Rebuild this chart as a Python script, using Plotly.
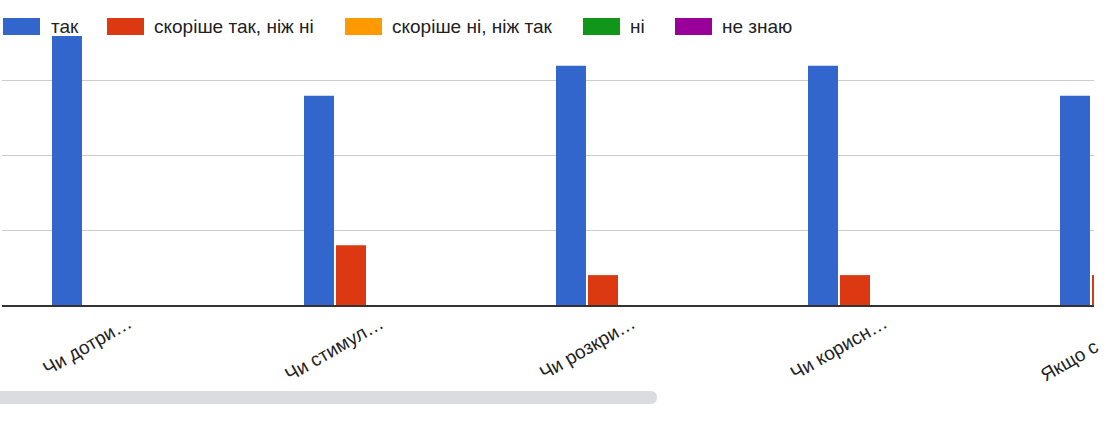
import plotly.graph_objects as go

categories = ["Чи дотри…", "Чи стимул…", "Чи розкри…", "Чи корисн…", "Якщо с…"]
tick_labels = ["Чи дотри…", "Чи стимул…", "Чи розкри…", "Чи корисн…", "Якщо с"]
series_names = ["так", "скоріше так, ніж ні", "скоріше ні, ніж так", "ні", "не знаю"]
tak = [9, 7, 8, 8, 7]
skorishe_tak = [0, 2, 1, 1, 1]
skorishe_ni = [0, 0, 0, 0, 0]
ni = [0, 0, 0, 0, 0]
ne_znayu = [0, 0, 0, 0, 0]
colors = ["#3366cc", "#dc3912", "#ff9900", "#109618", "#990099"]
y_ticks = [0, 2.5, 5, 7.5, 10]

W, H = 1117, 447
L, R, T, B = 2, 23, 6, 142
PW = W - L - R
PH = H - T - B

def px_x(px):
    return (px - L) / PW

def px_y(py):
    return (H - B - py) / PH

FONT = "Arial, 'Liberation Sans', sans-serif"
FS = 19

fig = go.Figure()
for name, vals, col in zip(series_names, [tak, skorishe_tak, skorishe_ni, ni, ne_znayu], colors):
    fig.add_trace(go.Bar(x=categories, y=vals, name=name, marker_color=col,
                         marker_line_width=0, showlegend=False))

# x range: show the scrolled window of the chart
r0 = -(131 - L) / 252
r1 = r0 + PW / 252

fig.update_layout(
    width=W, height=H,
    margin=dict(l=L, r=R, t=T, b=B),
    paper_bgcolor="white", plot_bgcolor="white",
    barmode="group", bargap=0.365, bargroupgap=0.0625,
    font=dict(family=FONT, color="#222222"),
    xaxis=dict(type="category", categoryorder="array", categoryarray=categories,
               range=[r0, r1], showticklabels=False, showgrid=False,
               showline=True, linecolor="#333333", linewidth=2, ticks=""),
    yaxis=dict(range=[0, 10], tickvals=y_ticks, showticklabels=False,
               gridcolor="#cccccc", gridwidth=1, zeroline=False, showline=False),
)

# category labels (rotated)
for i, lab in enumerate(tick_labels[:4]):
    fig.add_annotation(x=categories[i], xref="x", y=px_y(309), yref="paper",
                       text=lab, textangle=-30, showarrow=False,
                       xanchor="right", yanchor="top", xshift=7,
                       font=dict(size=FS, color="#222222", family=FONT))
# last label is cut off at the chart edge
fig.add_annotation(x=px_x(1105), xref="paper", y=px_y(333), yref="paper",
                   text=tick_labels[4], textangle=-30, showarrow=False,
                   xanchor="right", yanchor="top",
                   font=dict(size=FS, color="#222222", family=FONT))

# legend drawn manually (large swatches)
sw_x = [3, 107, 345, 583, 675]
tx_x = [49, 152, 390, 628, 720]
for name, col, sx, tx in zip(series_names, colors, sw_x, tx_x):
    fig.add_shape(type="rect", xref="paper", yref="paper",
                  x0=px_x(sx), x1=px_x(sx + 37), y0=px_y(35), y1=px_y(18),
                  fillcolor=col, line=dict(width=0))
    fig.add_annotation(x=px_x(tx), y=px_y(26.5), xref="paper", yref="paper",
                       text=name, showarrow=False, xanchor="left", yanchor="middle",
                       font=dict(size=FS, color="#222222", family=FONT))

# horizontal scrollbar
x0, x1, y0, y1, rr = -10, 657, 391, 404, 6.5
path = (f"M {px_x(x0 + rr)},{px_y(y0)} L {px_x(x1 - rr)},{px_y(y0)} "
        f"Q {px_x(x1)},{px_y(y0)} {px_x(x1)},{px_y((y0 + y1) / 2)} "
        f"Q {px_x(x1)},{px_y(y1)} {px_x(x1 - rr)},{px_y(y1)} "
        f"L {px_x(x0 + rr)},{px_y(y1)} Z")
fig.add_shape(type="path", xref="paper", yref="paper", path=path,
              fillcolor="#dadce0", line=dict(width=0))

fig.write_html("out.html", config={"displayModeBar": False},
               post_script="document.body.style.margin='0';")
